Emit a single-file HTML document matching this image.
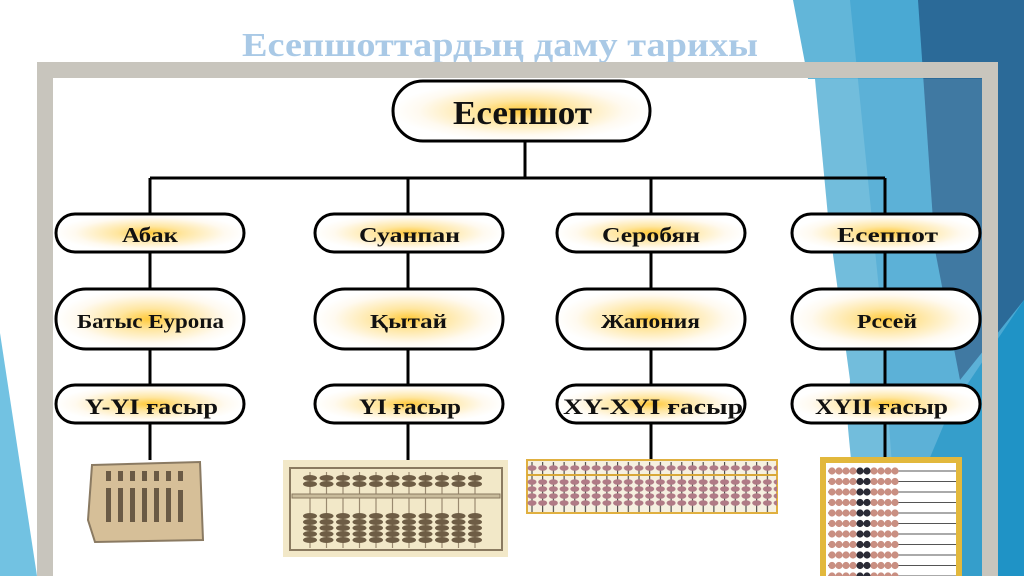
<!DOCTYPE html>
<html><head><meta charset="utf-8"><style>
html,body{margin:0;padding:0;background:#fff;}
svg{display:block;}
text{font-family:"Liberation Serif",serif;font-weight:bold;fill:#111;}
</style></head><body>
<svg width="1024" height="576" viewBox="0 0 1024 576" xmlns="http://www.w3.org/2000/svg">
<defs>
<radialGradient id="g" cx="50%" cy="50%" r="50%">
<stop offset="0" stop-color="#ffc93a"/><stop offset="0.35" stop-color="#ffe6a0"/><stop offset="0.8" stop-color="#fffaf0"/><stop offset="1" stop-color="#fff"/>
</radialGradient>
<pattern id="cb" x="302" y="0" width="16.5" height="576" patternUnits="userSpaceOnUse">
<line x1="8" y1="472" x2="8" y2="548" stroke="#9a8a70" stroke-width="1.2"/>
<ellipse cx="8" cy="478" rx="7" ry="3" fill="#6e5d45"/><ellipse cx="8" cy="484" rx="7" ry="3" fill="#6e5d45"/>
<ellipse cx="8" cy="516" rx="7" ry="3" fill="#6e5d45"/><ellipse cx="8" cy="522" rx="7" ry="3" fill="#6e5d45"/><ellipse cx="8" cy="528" rx="7" ry="3" fill="#6e5d45"/><ellipse cx="8" cy="534" rx="7" ry="3" fill="#6e5d45"/><ellipse cx="8" cy="540" rx="7" ry="3" fill="#6e5d45"/>
</pattern>
<pattern id="jb" x="527" y="0" width="10.7" height="576" patternUnits="userSpaceOnUse">
<line x1="5" y1="462" x2="5" y2="512" stroke="#333" stroke-width="1"/>
<ellipse cx="5" cy="468" rx="4.5" ry="2.8" fill="#b07a86"/>
<ellipse cx="5" cy="482" rx="4.5" ry="2.8" fill="#b07a86"/><ellipse cx="5" cy="489" rx="4.5" ry="2.8" fill="#b07a86"/><ellipse cx="5" cy="496" rx="4.5" ry="2.8" fill="#b07a86"/><ellipse cx="5" cy="503" rx="4.5" ry="2.8" fill="#b07a86"/>
</pattern>
<pattern id="rb" x="828" y="466" width="200" height="10.5" patternUnits="userSpaceOnUse">
<line x1="0" y1="5" x2="130" y2="5" stroke="#555" stroke-width="1"/>
<circle cx="4" cy="5" r="3.6" fill="#c98f82"/><circle cx="11" cy="5" r="3.6" fill="#c98f82"/><circle cx="18" cy="5" r="3.6" fill="#c98f82"/><circle cx="25" cy="5" r="3.6" fill="#c98f82"/>
<circle cx="32" cy="5" r="3.6" fill="#2a2a35"/><circle cx="39" cy="5" r="3.6" fill="#2a2a35"/>
<circle cx="46" cy="5" r="3.6" fill="#c98f82"/><circle cx="53" cy="5" r="3.6" fill="#c98f82"/><circle cx="60" cy="5" r="3.6" fill="#c98f82"/><circle cx="67" cy="5" r="3.6" fill="#c98f82"/>
</pattern>
</defs>
<rect width="1024" height="576" fill="#fff"/>
<polygon points="793,0 1024,0 1024,576 840,576 850,380 812,100" fill="#62b6d9"/>
<polygon points="850,0 1024,0 1024,576 900,576 880,300" fill="#4aa9d3"/>
<polygon points="918,0 1024,0 1024,300 960,380 935,250" fill="#2b6a98"/>
<polygon points="880,576 1024,576 1024,300 950,410" fill="#1f93c6"/>
<polygon points="0,333 0,576 37,576" fill="#72c2e2"/>
<text x="500" y="56" text-anchor="middle" font-size="34" textLength="516" lengthAdjust="spacingAndGlyphs" style="fill:#a9c9e6">Есепшоттардың даму тарихы</text>
<polygon points="54,79 815,79 862,576 54,576" fill="#fff"/>
<polygon points="815,79 982,79 982,576 862,576" fill="#fff" opacity="0.1"/>
<path d="M45,576 V70 H990 V576" fill="none" stroke="#c8c5bd" stroke-width="16"/>
<g stroke="#000" stroke-width="3" fill="none">
<line x1="525" y1="140" x2="525" y2="178"/>
<line x1="150" y1="178" x2="885" y2="178"/>
<line x1="150" y1="178" x2="150" y2="460"/>
<line x1="408" y1="178" x2="408" y2="460"/>
<line x1="651" y1="178" x2="651" y2="460"/>
<line x1="885" y1="178" x2="885" y2="460"/>
</g>
<g stroke="#000" stroke-width="3" fill="url(#g)">
<rect x="393" y="81" width="257" height="60" rx="30"/>
<rect x="56" y="214" width="188" height="38" rx="19"/>
<rect x="315" y="214" width="188" height="38" rx="19"/>
<rect x="557" y="214" width="188" height="38" rx="19"/>
<rect x="792" y="214" width="188" height="38" rx="19"/>
<rect x="56" y="289" width="188" height="60" rx="30"/>
<rect x="315" y="289" width="188" height="60" rx="30"/>
<rect x="557" y="289" width="188" height="60" rx="30"/>
<rect x="792" y="289" width="188" height="60" rx="30"/>
<rect x="56" y="385" width="188" height="38" rx="19"/>
<rect x="315" y="385" width="188" height="38" rx="19"/>
<rect x="557" y="385" width="188" height="38" rx="19"/>
<rect x="792" y="385" width="188" height="38" rx="19"/>
</g>
<text x="453" y="124" font-size="34" textLength="139" lengthAdjust="spacingAndGlyphs">Есепшот</text>
<text x="122" y="242" font-size="21" textLength="56" lengthAdjust="spacingAndGlyphs">Абак</text>
<text x="359" y="242" font-size="21" textLength="101" lengthAdjust="spacingAndGlyphs">Суанпан</text>
<text x="602" y="242" font-size="21" textLength="98" lengthAdjust="spacingAndGlyphs">Серобян</text>
<text x="837" y="242" font-size="21" textLength="101" lengthAdjust="spacingAndGlyphs">Есеппот</text>
<text x="77" y="328" font-size="20" textLength="147" lengthAdjust="spacingAndGlyphs">Батыс Еуропа</text>
<text x="370" y="328" font-size="20" textLength="77" lengthAdjust="spacingAndGlyphs">Қытай</text>
<text x="601" y="328" font-size="20" textLength="99" lengthAdjust="spacingAndGlyphs">Жапония</text>
<text x="857" y="328" font-size="20" textLength="60" lengthAdjust="spacingAndGlyphs">Рссей</text>
<text x="85" y="414" font-size="22" textLength="133" lengthAdjust="spacingAndGlyphs">Y-YI ғасыр</text>
<text x="359" y="414" font-size="22" textLength="102" lengthAdjust="spacingAndGlyphs">YI ғасыр</text>
<text x="563" y="414" font-size="22" textLength="180" lengthAdjust="spacingAndGlyphs">XY-XYI ғасыр</text>
<text x="815" y="414" font-size="22" textLength="133" lengthAdjust="spacingAndGlyphs">XYII ғасыр</text>
<path d="M92,465 L200,462 L203,540 L95,542 L88,520 Z" fill="#d6bf98" stroke="#8a7a62" stroke-width="2"/>
<g fill="#6a5a45">
<rect x="106" y="471" width="5" height="10"/><rect x="118" y="471" width="5" height="10"/><rect x="130" y="471" width="5" height="10"/><rect x="142" y="471" width="5" height="10"/><rect x="154" y="471" width="5" height="10"/><rect x="166" y="471" width="5" height="10"/><rect x="178" y="471" width="5" height="10"/>
<rect x="106" y="488" width="5" height="34"/><rect x="118" y="488" width="5" height="34"/><rect x="130" y="488" width="5" height="34"/><rect x="142" y="488" width="5" height="34"/><rect x="154" y="488" width="5" height="34"/><rect x="166" y="488" width="5" height="34"/><rect x="178" y="490" width="5" height="32"/>
</g>
<rect x="283" y="460" width="225" height="97" fill="#f2e8c8"/>
<rect x="290" y="468" width="212" height="82" fill="none" stroke="#8a7a60" stroke-width="2"/>
<rect x="302" y="470" width="182" height="80" fill="url(#cb)"/>
<rect x="292" y="494" width="208" height="4" fill="#c9bc9c" stroke="#8a7a60" stroke-width="1"/>
<rect x="527" y="460" width="250" height="53" fill="#f6f0e0" stroke="#e0b040" stroke-width="2"/>
<rect x="527" y="462" width="250" height="50" fill="url(#jb)"/>
<rect x="527" y="474" width="250" height="2" fill="#d8a838"/>
<rect x="823" y="460" width="136" height="120" fill="#fff" stroke="#e2b83c" stroke-width="6"/>
<rect x="828" y="466" width="128" height="110" fill="url(#rb)"/>
</svg>
</body></html>
